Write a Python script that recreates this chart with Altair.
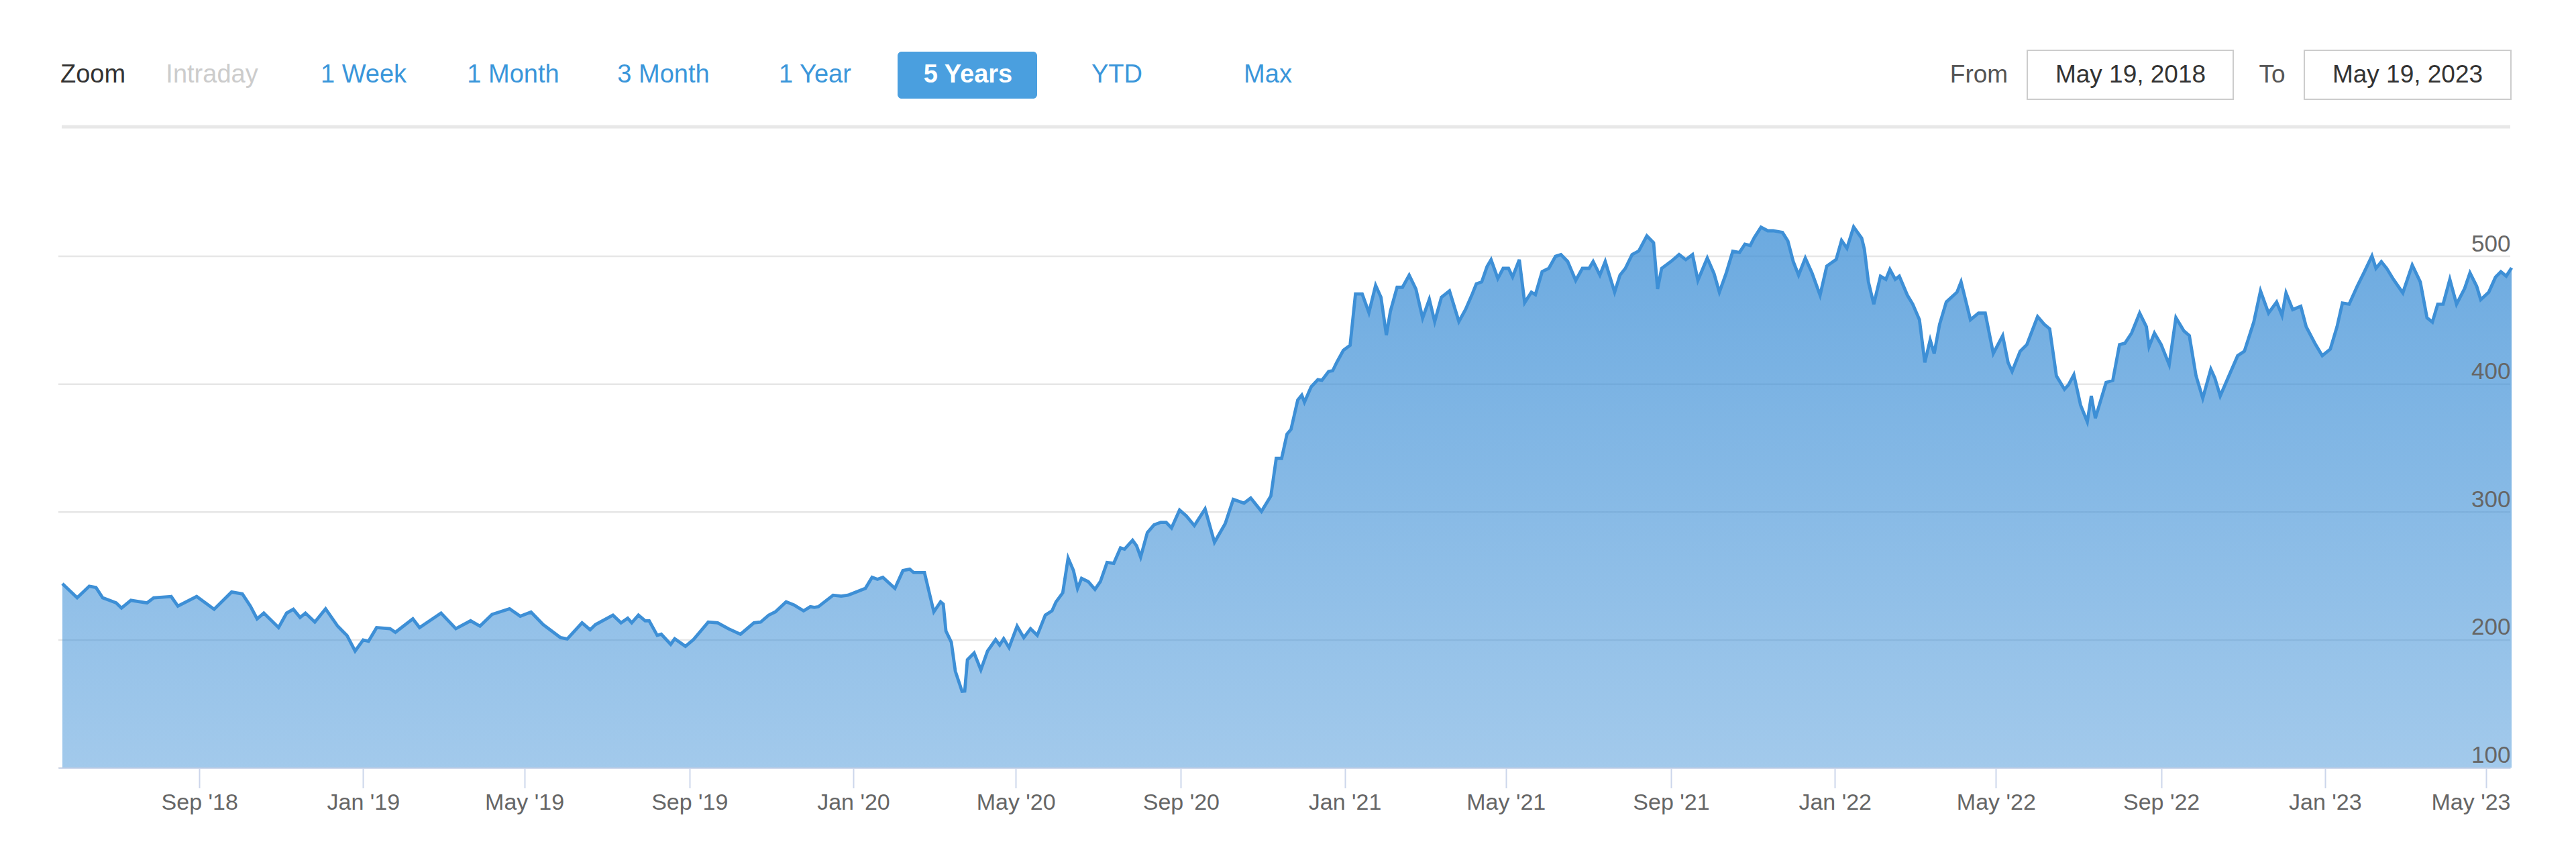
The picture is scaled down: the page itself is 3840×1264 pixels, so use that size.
import altair as alt
import pandas as pd

# ---------------- data ----------------
# day offsets from 2018-05-22 (first trading day shown) and closing values
day_offsets = [
    0, 11, 20, 25, 30, 40, 44, 51, 63, 68, 81, 86, 100, 113, 126, 134, 140, 145, 150, 161,
    167, 172, 177, 181, 188, 196, 205, 212, 218, 224, 228, 234, 244, 248, 261, 266, 282, 293, 304, 311,
    320, 333, 341, 349, 358, 371, 376, 387, 393, 397,
    410, 416, 421, 424, 429, 434, 437, 443, 446, 453, 456, 464, 470, 481, 488, 496, 505, 515, 520, 526,
    531, 539, 545, 552, 557, 560, 563, 574, 580, 585, 598, 603, 607, 611, 620, 626, 631, 634, 642, 649,
    654, 656, 658, 662, 665, 670, 672, 674, 679, 684, 689, 695, 698, 701, 705, 711, 716, 721, 726, 732,
    737, 740, 745, 749, 753, 756, 759, 764, 769, 773, 778, 783, 788, 791, 797, 800, 803, 808, 813, 818,
    822, 826, 832, 837, 843, 851,
    858, 866, 872, 880, 885, 893, 900, 904, 908, 912, 915, 920, 923, 925, 930, 935, 938, 943, 946, 949,
    954, 959, 963, 968, 973, 978, 982, 986, 989, 994, 998, 1003, 1008, 1013, 1018, 1022, 1027, 1033, 1040, 1045,
    1050, 1053, 1057, 1061, 1064, 1069, 1073, 1077, 1080, 1085, 1089, 1094, 1097, 1102, 1107, 1112, 1116, 1121, 1127, 1132,
    1137, 1140, 1145, 1149, 1156, 1160, 1164, 1169, 1174, 1180, 1185, 1188, 1191, 1198, 1204, 1209, 1214, 1218, 1225, 1230,
    1234, 1239, 1244, 1249, 1253, 1257, 1260, 1265, 1270, 1274, 1281, 1285, 1289, 1293, 1298,
    1303, 1309, 1314, 1321, 1325, 1329, 1334, 1340, 1342, 1345, 1349, 1354, 1358, 1361, 1365, 1368, 1374, 1378, 1383, 1387,
    1391, 1394, 1398, 1403, 1411, 1414, 1421, 1427, 1432, 1438, 1445, 1449, 1452, 1458, 1463, 1471, 1476, 1480, 1485, 1491,
    1494, 1498, 1503, 1508, 1511, 1514, 1522, 1527, 1532, 1536, 1541, 1547, 1552, 1554, 1558, 1563, 1569, 1574, 1580, 1584,
    1589, 1594, 1600, 1603, 1607, 1612, 1620, 1625, 1632, 1637, 1643, 1649, 1653, 1656, 1661, 1667, 1671, 1678, 1683, 1689,
    1694, 1698, 1703, 1709, 1714, 1720, 1723, 1727, 1731, 1736, 1743, 1750, 1756, 1761, 1765, 1769, 1773, 1778, 1783, 1789,
    1793, 1798, 1801, 1807, 1812, 1816, 1820, 1824,
]
prices = [
    244, 233, 242, 241, 233, 229, 225, 231, 229, 233, 234, 226.5, 234, 224, 237.5, 236, 226.5, 216.5, 221, 209.7,
    221, 224, 217.6, 221, 214, 224.4, 210.8, 203.4, 191.3, 200, 199, 209.7, 208.8, 206, 216.5, 209.7, 221, 208.8, 215, 210.8,
    220, 224.4, 218.6, 221.8, 212, 201.8, 200.8, 213.4, 208, 212,
    219.4, 213.4, 217, 213.4, 219.4, 215, 215, 203.6, 204.5, 196.6, 201, 195, 200.3, 214, 213.4, 208.8, 204.5, 213.4, 214, 219.4,
    222, 229.8, 227.3, 222.8, 226, 225.5, 226, 235, 234.3, 235, 240.3, 249, 247.4, 249, 240.3, 254.3, 255.4, 252.7, 252.7, 222,
    229.8, 228, 207, 198.3, 175.6, 159.8, 160, 184.5, 189.8, 176.6, 191.3, 200.3, 196, 201, 194, 210.8, 201.8, 208.8, 203.6, 219.4,
    222.8, 229.8, 236.9, 264, 254.3, 240.3, 248.2, 245.6, 239.5, 245.6, 260.6, 260, 272, 271, 278, 273.6, 264.8, 284, 290, 292,
    292, 287.6, 301.6, 297, 289.4, 302.5,
    276.4, 291, 310, 307, 311, 300.5, 312.6, 342, 342, 361, 364.7, 387.6, 391.5, 386, 398, 403.6, 403, 410, 410.5, 417,
    426.5, 430.4, 470.6, 470.6, 456, 477.3, 468, 438.4, 457, 475.8, 475.8, 485.3, 474.5, 451.7, 466.4, 449, 468, 473, 449, 458.5,
    470.6, 478.5, 480, 492, 497.4, 482.7, 490.6, 490.6, 483.9, 497.4, 463.8, 472, 470, 488, 490.6, 500, 501.4, 496, 481.2, 490.6,
    490.6, 496, 485.3, 496, 472, 485.3, 490.6, 501.4, 504.2, 516, 510.7, 474.5, 490.6, 496, 501.4, 497.4, 501.4, 481.2, 498.7, 486.6,
    472, 486.6, 504, 503, 509.5, 508.5, 514.7, 522.8, 520, 520, 518.7, 512, 496, 485.3, 498.7,
    487, 469.6, 492.4, 497.6, 512.5, 506.3, 523, 514.2, 505.5, 480, 462.6, 484.5, 482, 489.8, 482, 484.5, 469.6, 462.6, 450.4, 417,
    434.6, 424, 446.8, 464.3, 472, 480, 450.4, 455.6, 455.6, 424, 438, 417, 410, 425.8, 431, 452.9, 446.8, 443.3, 406.5, 396,
    399.5, 407.4, 383.7, 370.6, 390.8, 373.4, 401.3, 403, 431, 432, 440, 455.6, 445, 429.4, 440, 431, 415.3, 452, 441.6, 438,
    406.5, 389, 411.8, 404.8, 390.8, 403, 422.3, 425.8, 448.6, 473, 455.6, 464.3, 453.8, 471.4, 458.3, 461, 445, 431, 422.3, 427.5,
    445, 463.5, 462.6, 476.6, 487.1, 500.3, 490.6, 495.8, 490.6, 482, 471.4, 493.2, 480, 452, 448.6, 462.6, 462.6, 482, 462.6, 474.8,
    487.1, 476.6, 466.1, 472, 483.7, 488, 484.5, 491,
]

start_date = "2018-05-22"
domain_start = "2018-05-19"
domain_end = "2023-05-19"

y_ticks = [100, 200, 300, 400, 500]
x_tick_dates = [
    "2018-09-01", "2019-01-01", "2019-05-01", "2019-09-01", "2020-01-01", "2020-05-01",
    "2020-09-01", "2021-01-01", "2021-05-01", "2021-09-01", "2022-01-01", "2022-05-01",
    "2022-09-01", "2023-01-01", "2023-05-01",
]

zoom_label = "Zoom"
buttons = ["Intraday", "1 Week", "1 Month", "3 Month", "1 Year", "5 Years", "YTD", "Max"]
selected_button = "5 Years"
from_label, to_label = "From", "To"
from_date_text, to_date_text = "May 19, 2018", "May 19, 2023"

# ---------------- build table ----------------
base = pd.Timestamp(start_date)
df = pd.DataFrame({
    "date": [(base + pd.Timedelta(days=o)).strftime("%Y-%m-%dT00:00:00") for o in day_offsets],
    "price": prices,
})


def dt(s):
    t = pd.Timestamp(s)
    return alt.DateTime(year=t.year, month=t.month, date=t.day)


# ---------------- layout constants ----------------
W, H = 3655, 953
FONT = "Liberation Sans"
LINE_COLOR = "#3d8fd6"
TEXT_Y = -80
button_x = [229, 455, 678, 902, 1128, 1356, 1578, 1803]

x_scale = alt.Scale(domain=[dt(domain_start), dt(domain_end)])
x_axis = alt.Axis(
    title=None, values=[dt(d) for d in x_tick_dates], format="%b '%y",
    grid=False, domain=True, domainColor="#ccd6eb", domainWidth=2,
    ticks=True, tickSize=30, tickColor="#ccd6eb", tickWidth=2,
    labelFont=FONT, labelFontSize=34, labelColor="#666666", labelPadding=5,
    labelAngle=0, labelFlush=40, labelFlushOffset=36, zindex=1,
)
y_scale = alt.Scale(domain=[100, 600], zero=False, nice=False)
y_axis = alt.Axis(
    title=None, orient="right", values=y_ticks, grid=False, domain=False,
    ticks=False, tickSize=0, labelAlign="right", labelBaseline="alphabetic",
    labelOffset=-8, labelPadding=0, labelFont=FONT, labelFontSize=35,
    labelColor="#666666", zindex=1,
)

grid = alt.Chart(pd.DataFrame({"price": y_ticks})).mark_rule(
    color="#e6e6e6", strokeWidth=2.5
).encode(y=alt.Y("price:Q", scale=y_scale, axis=y_axis))

gradient = alt.Gradient(
    gradient="linear",
    stops=[
        alt.GradientStop(color="rgba(61,143,214,0.76)", offset=0),
        alt.GradientStop(color="rgba(61,143,214,0.48)", offset=1),
    ],
    x1=1, x2=1, y1=0, y2=1,
)

area = alt.Chart(df).mark_area(color=gradient, interpolate="linear").encode(
    x=alt.X("date:T", scale=x_scale, axis=x_axis),
    y=alt.Y("price:Q", scale=y_scale, axis=y_axis),
    y2=alt.datum(100),
)
line = alt.Chart(df).mark_line(color=LINE_COLOR, strokeWidth=4.8, interpolate="linear").encode(
    x=alt.X("date:T", scale=x_scale, axis=x_axis),
    y=alt.Y("price:Q", scale=y_scale, axis=y_axis),
)

one = pd.DataFrame({"k": [0]})

separator = alt.Chart(one).mark_rule(color="#e8e8e8", strokeWidth=5).encode(
    x=alt.value(5), x2=alt.value(W), y=alt.value(-2.5)
)

layers = [grid, area, line, separator]

layers.append(
    alt.Chart(pd.DataFrame({"t": [zoom_label]})).mark_text(
        align="left", baseline="middle", font=FONT, fontSize=38, color="#333333"
    ).encode(text="t:N", x=alt.value(3), y=alt.value(TEXT_Y))
)

# selected button box
sel_idx = buttons.index(selected_button)
layers.append(
    alt.Chart(one).mark_rect(color="#4a9fdf", cornerRadius=6).encode(
        x=alt.value(button_x[sel_idx] - 105), x2=alt.value(button_x[sel_idx] + 103),
        y=alt.value(-114.5), y2=alt.value(-44.5),
    )
)

for lab, bx in zip(buttons, button_x):
    if lab == selected_button:
        col, weight = "#ffffff", "bold"
    elif lab == "Intraday":
        col, weight = "#cccccc", "normal"
    else:
        col, weight = "#3a96da", "normal"
    layers.append(
        alt.Chart(pd.DataFrame({"t": [lab]})).mark_text(
            align="center", baseline="middle", font=FONT, fontSize=38,
            color=col, fontWeight=weight,
        ).encode(text="t:N", x=alt.value(bx), y=alt.value(TEXT_Y))
    )

# date input boxes
for x0, x1 in [(2935, 3242), (3348, 3656)]:
    layers.append(
        alt.Chart(one).mark_rect(fill="#ffffff", stroke="#cccccc", strokeWidth=2).encode(
            x=alt.value(x0), x2=alt.value(x1), y=alt.value(-116.5), y2=alt.value(-43.5)
        )
    )

for lab, bx, col in [(from_label, 2863, "#555555"), (to_label, 3300, "#555555"),
                     (from_date_text, 3089, "#333333"), (to_date_text, 3502, "#333333")]:
    layers.append(
        alt.Chart(pd.DataFrame({"t": [lab]})).mark_text(
            align="center", baseline="middle", font=FONT, fontSize=37, color=col
        ).encode(text="t:N", x=alt.value(bx), y=alt.value(TEXT_Y))
    )

chart = alt.layer(*layers).properties(
    width=W, height=H,
    background="#ffffff",
    autosize=alt.AutoSizeParams(type="none"),
    padding={"left": 79, "top": 183.5, "right": 80, "bottom": 100},
).configure_view(strokeWidth=0, stroke="transparent")

chart.save("out.html", embed_options={"renderer": "svg", "actions": False})
